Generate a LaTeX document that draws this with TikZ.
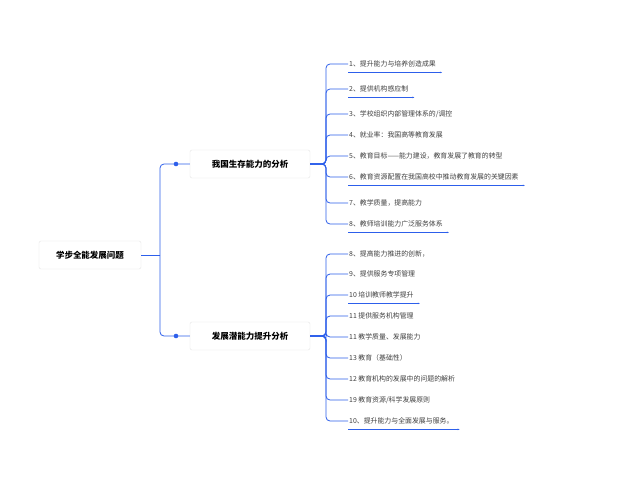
\documentclass[tikz,border=0pt]{standalone}
\usetikzlibrary{arrows.meta}
\usepackage{fontspec}
\setmainfont{Noto Sans CJK SC}
\definecolor{lb}{RGB}{45,95,235}
\begin{document}
\begin{tikzpicture}[x=1pt,y=-1pt,
  box/.style={draw=black!10,fill=white,rounded corners=2pt,minimum height=28pt,font=\fontsize{8.5}{10}\selectfont\bfseries,inner xsep=8pt},
  leaf/.style={anchor=west,font=\fontsize{6.9}{8}\selectfont,text=black!75,inner sep=1pt},
  con/.style={draw=lb,line width=0.8pt,rounded corners=4pt},
  ul/.style={draw=lb,line width=0.6pt,-{Stealth[length=2pt]}}]
\useasboundingbox (0,0) rectangle (640,480);
\fill[white] (0,0) rectangle (640,480);
\node[box,minimum width=102pt] (root) at (90,255) {学步全能发展问题};
\node[box,minimum width=120pt] (b1) at (250,164) {我国生存能力的分析};
\node[box,minimum width=120pt] (b2) at (250,336) {发展潜能力提升分析};
\coordinate (j) at (160,255);
\draw[con] (root.east) -- (j);
\draw[con] (j) |- (b1.west);
\draw[con] (j) |- (b2.west);
\fill[lb] (176,164) circle (2.3pt) (176,336) circle (2.3pt);
\foreach \n/\y/\t in {
 1/64/{1、提升能力与培养创造成果},
 2/89/{2、提供机构感应制},
 3/114/{3、学校组织内部管理体系的/调控},
 4/135/{4、就业率：我国高等教育发展},
 5/156/{5、教育目标——能力建设，教育发展了教育的转型},
 6/177/{6、教育资源配置在我国高校中推动教育发展的关键因素},
 7/203/{7、教学质量，提高能力},
 8/224/{8、教师培训能力广泛服务体系}}{
 \node[leaf] (u\n) at (348,\y) {\t};
 \draw[con] (b1.east) -- (326,164) |- (u\n.west);
}
\foreach \n/\y/\t in {
 1/254/{8、提高能力推进的创新，},
 2/274/{9、提供服务专项管理},
 3/295/{10 培训教师教学提升},
 4/316/{11 提供服务机构管理},
 5/337/{11 教学质量、发展能力},
 6/358/{13 教育（基础性）},
 7/379/{12 教育机构的发展中的问题的解析},
 8/400/{19 教育资源/科学发展原则},
 9/421/{10、提升能力与全面发展与服务。}}{
 \node[leaf] (l\n) at (348,\y) {\t};
 \draw[con] (b2.east) -- (326,336) |- (l\n.west);
}
\foreach \a in {u1,u2,u6,u8,l3,l9}{
 \draw[ul] ([yshift=-4pt]\a.south west) -- ([yshift=-4pt,xshift=5pt]\a.south east);
}
\end{tikzpicture}
\end{document}
